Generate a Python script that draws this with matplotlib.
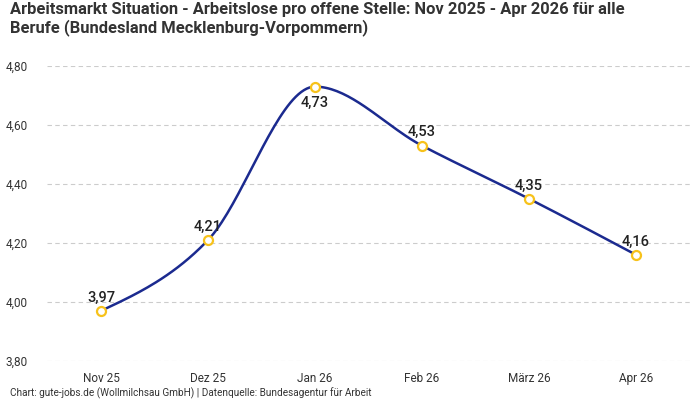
import numpy as np
import matplotlib
matplotlib.use("Agg")
import matplotlib.pyplot as plt

categories = ["Nov 25", "Dez 25", "Jan 26", "Feb 26", "März 26", "Apr 26"]
values = [3.97, 4.21, 4.73, 4.53, 4.35, 4.16]
label_below = [False, False, True, False, False, False]
yticks = [3.80, 4.00, 4.20, 4.40, 4.60, 4.80]

plt.rcParams['font.family'] = ['Roboto', 'DejaVu Sans']


def monotone_x(xs, ys, n=40):
    xs = np.asarray(xs, float)
    ys = np.asarray(ys, float)
    h = np.diff(xs)
    s = np.diff(ys) / h
    m = np.zeros_like(ys)
    for i in range(1, len(ys) - 1):
        if s[i - 1] * s[i] <= 0:
            m[i] = 0.0
        else:
            p = (s[i - 1] * h[i] + s[i] * h[i - 1]) / (h[i - 1] + h[i])
            m[i] = (np.sign(s[i - 1]) + np.sign(s[i])) * min(abs(s[i - 1]), abs(s[i]), 0.5 * abs(p))
    m[0] = (3 * s[0] - m[1]) / 2
    m[-1] = (3 * s[-1] - m[-2]) / 2
    px, py = [], []
    for i in range(len(xs) - 1):
        t = np.linspace(0, 1, n)
        h00 = 2 * t**3 - 3 * t**2 + 1
        h10 = t**3 - 2 * t**2 + t
        h01 = -2 * t**3 + 3 * t**2
        h11 = t**3 - t**2
        px.extend(xs[i] + t * h[i])
        py.extend(h00 * ys[i] + h10 * h[i] * m[i] + h01 * ys[i + 1] + h11 * h[i] * m[i + 1])
    return np.array(px), np.array(py)


fig = plt.figure(figsize=(7, 4), dpi=100)
ax = fig.add_axes([47.5 / 700, 1 - 361 / 400, 642 / 700, 295 / 400])

x = np.arange(len(categories))
cx, cy = monotone_x(x, values)
ax.plot(cx, cy, color="#1b2a8f", lw=1.8, zorder=3, solid_capstyle='round')
ax.scatter(x, values, s=42, facecolor="white", edgecolor="#f7c21b", linewidth=1.6, zorder=4)

for xi, v, below in zip(x, values, label_below):
    txt = f"{v:.2f}".replace(".", ",")
    if below:
        ax.annotate(txt, (xi, v), xytext=(0, -7), textcoords="offset points",
                    ha="center", va="top", fontsize=10.5, fontweight="medium", color="#222222")
    else:
        ax.annotate(txt, (xi, v), xytext=(0, 4.5), textcoords="offset points",
                    ha="center", va="bottom", fontsize=10.5, fontweight="medium", color="#222222")

ax.set_xlim(-0.5, len(categories) - 0.5)
ax.set_ylim(3.80, 4.80)
ax.set_yticks(yticks)
ax.set_yticklabels([f"{t:.2f}".replace(".", ",") for t in yticks])
ax.set_xticks(x)
ax.set_xticklabels(categories)
ax.tick_params(axis="both", length=0, labelsize=8.5, labelcolor="#333333")
ax.tick_params(axis="y", pad=14)
ax.tick_params(axis="x", pad=8)
ax.grid(axis="y", color="#cccccc", linestyle=(0, (4, 3)), linewidth=0.8)
ax.set_axisbelow(True)
for sp in ax.spines.values():
    sp.set_visible(False)
ax.patch.set_alpha(0)

fig.text(10 / 700, 1 - 2 / 400,
         "Arbeitsmarkt Situation - Arbeitslose pro offene Stelle: Nov 2025 - Apr 2026 für alle\nBerufe (Bundesland Mecklenburg-Vorpommern)",
         ha="left", va="top", fontsize=11.9, fontweight="bold", color="#333333", linespacing=1.12)
fig.text(10 / 700, 1 - 393 / 400,
         "Chart: gute-jobs.de (Wollmilchsau GmbH) | Datenquelle: Bundesagentur für Arbeit",
         ha="left", va="center", fontsize=7.2, color="#333333")

fig.savefig("out.png", dpi=100)
